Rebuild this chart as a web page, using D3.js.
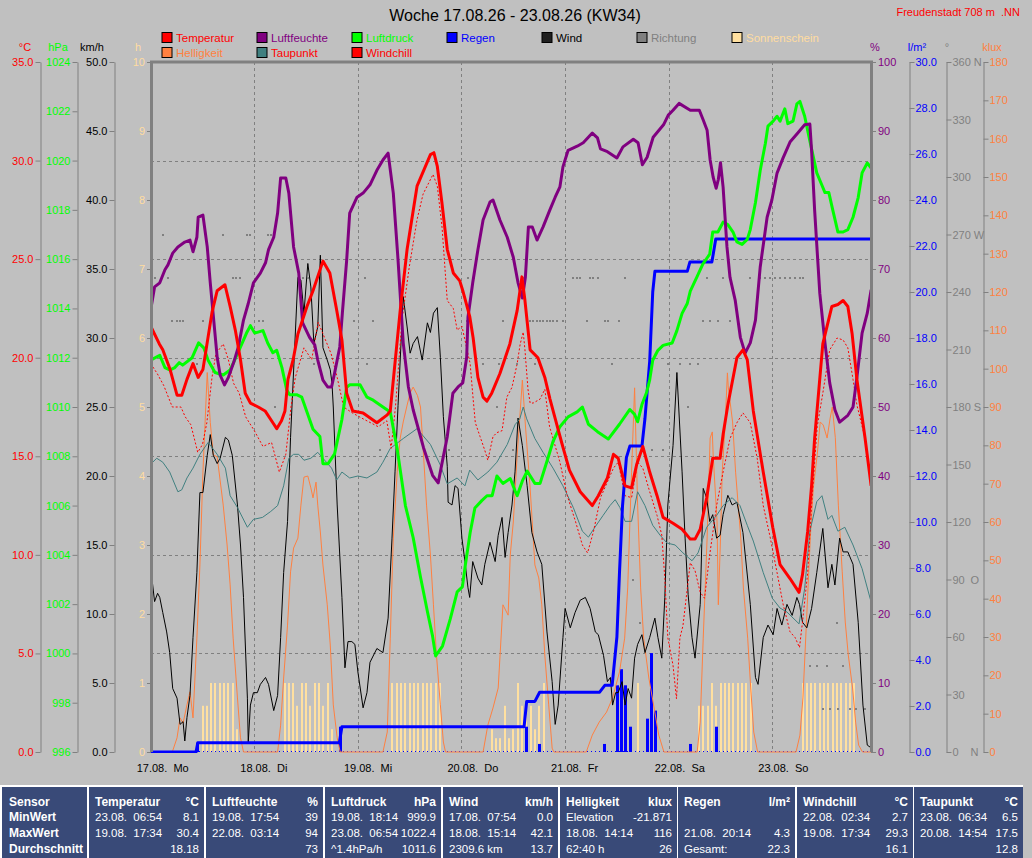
<!DOCTYPE html>
<html>
<head>
<meta charset="utf-8">
<script src="https://cdn.jsdelivr.net/npm/d3@7"></script>
<style>
body{margin:0;background:#c0c0c0;}
svg text{font-family:"Liberation Sans",Arial,sans-serif;white-space:pre;}
</style>
</head>
<body>
<div id="chart"></div>
<script>
// Werte: [Stunde seit 17.08. 00:00, Wert]
var temperatur = [[0,21.6],[2,20.7],[2.8,20.4],[4.5,19.4],[6.1,18.1],[7.2,18.1],[8.4,18.9],[9.8,19.7],[11,19.0],[12.1,19.4],[14.2,22.3],[15.4,23.4],[17.2,23.7],[18.4,22.6],[19.6,21.4],[20.8,19.9],[21.9,18.2],[23.1,17.7],[24.9,17.5],[26.5,17.3],[28.3,16.7],[29.2,16.4],[30.3,16.8],[31.1,17.3],[31.8,18.9],[33,19.9],[34.1,21.2],[36.2,22.6],[37.6,23.4],[39.9,24.9],[41.5,24.3],[43.1,22.4],[44.3,20.9],[45.4,18.2],[46.8,17.3],[49.2,17.2],[52.4,16.7],[54.8,17.1],[55.5,17.3],[57.8,22.4],[59.4,25.5],[61.7,28.7],[64.8,30.3],[65.6,30.4],[66.4,29.7],[67.5,27.8],[68.7,25.5],[70.1,24.3],[71.6,23.9],[72.3,23.4],[73.9,22.1],[74.7,21],[75.8,19],[77,18],[77.9,17.8],[79,18.2],[80.9,19.2],[83.2,20.7],[84.9,22.4],[86,24.1],[86.7,22.9],[87.9,20.4],[89.7,20],[91.3,19],[92.5,17.9],[93.6,17],[95.2,15.7],[97,14.3],[99.5,13.2],[102.3,12.5],[103.7,13.0],[105.8,13.9],[107.2,15.1],[108.3,14.9],[109.9,13.5],[111.4,13.4],[112.6,14.6],[114,15.5],[115.6,14.2],[117.3,13.0],[118.7,11.9],[121,11.6],[123.1,11.3],[125,10.8],[126.1,10.8],[127.3,11.3],[128.8,12.9],[130.2,14.9],[131.9,14.9],[132.6,16.1],[133.7,17.6],[135.8,20.0],[137.2,20.4],[138.2,19.9],[139.6,17.3],[141.9,14.2],[144.1,11.4],[145.8,9.5],[148.1,8.8],[150.2,8.1],[151,9.0],[152.2,11.2],[153.1,13.5],[153.8,15.9],[155.7,20.7],[157.8,22.6],[159.2,22.7],[160.4,22.9],[161.5,22.6],[162.5,21.2],[163.6,18.9],[165.5,15.9],[166.9,13.5]];

var windchill = [[0,19.7],[1.5,19.2],[3,18.6],[5,17.5],[7,17.5],[8,17.0],[9.3,16.6],[10.9,15.2],[12,15.6],[13,16.7],[14.2,19.0],[15.1,20.2],[16.8,20.7],[18,19.9],[19.2,18.7],[20.5,18.2],[22,17.0],[24,16.3],[26,15.5],[28,15.7],[29.8,14.2],[31.3,15.1],[32.5,17.5],[33.5,19.0],[35.5,20.5],[37.3,19.9],[38.8,21.8],[40.3,21.0],[41.8,20.2],[43.2,19.0],[44.7,17.5],[46.7,17.2],[49.2,16.9],[52.7,16.5],[54.7,16.8],[55.7,15.4],[56.7,17.5],[58.2,21.9],[59.9,24.6],[61.7,27.0],[63.1,28.3],[65.4,29.3],[66.4,28.7],[67.5,26.6],[68.7,22.9],[70.1,22.5],[71,21.4],[72.1,21.6],[74,19.7],[74.7,17.9],[75.2,16.7],[76.3,16],[77.4,15.3],[78.1,14.8],[79.3,16],[80.2,16.2],[81.4,16.3],[82.5,18],[83.7,18.5],[84.9,19.7],[85.6,20.7],[86.3,21.3],[86.7,20.4],[87.4,18.4],[87.9,17.7],[88.6,17.7],[90.2,17.9],[91.3,18.4],[92.4,16.5],[94.8,14.7],[96.5,13.0],[98.4,11.7],[100,10.5],[101.2,10.1],[102.6,11.2],[104.2,12.9],[105.8,13.7],[107.2,14.4],[108.3,14.7],[109.9,13.0],[111.4,12.9],[112.8,14.7],[114,14.4],[115.6,13.2],[117.3,12.0],[118.4,11.0],[119.1,8.8],[119.8,5.8],[121,4.4],[121.8,2.7],[122.6,5.8],[123.3,6.4],[125,9.6],[126.1,9.2],[127.3,8.1],[128.3,7.8],[129.5,10.0],[131.1,12.5],[132.6,14.2],[134.2,15.9],[135.8,16.7],[137.2,17.2],[138.9,16.7],[140.5,14.9],[141.9,12.5],[143.5,10.9],[145.1,9.1],[146.5,7.5],[148.1,6.1],[149.3,5.8],[150.3,5.3],[151,6.6],[152.2,9.1],[153.1,12.5],[154.4,16.5],[155.7,18.2],[157.3,20.4],[159,21.0],[160.4,20.9],[161.5,20.5],[162.7,18.9],[163.6,17.6],[165.5,15.9],[166.9,13.5]];

var taupunkt = [[0,14.6],[1.4,14.9],[2.8,14.7],[4.4,14.2],[6.3,13.2],[7.2,13.3],[8.4,13.9],[9.8,14.4],[11.4,15.1],[13.3,15.7],[15.4,15.1],[17.3,14.4],[18.4,13.0],[20.1,12.4],[22.4,11.4],[23.8,11.8],[25.9,11.9],[27.8,12.2],[29.4,12.5],[30.8,13.5],[32,14.9],[33.1,15.1],[34.3,15.1],[35.5,14.8],[37.1,14.9],[38.7,15.2],[39.9,14.9],[41.9,14.4],[43.1,13.8],[44.3,14.2],[46.1,13.9],[48,14.0],[50.1,13.9],[52.4,14.2],[53.8,14.7],[55.5,15.4],[58.5,15.9],[61.7,16.4],[64.8,15.6],[67,14.6],[68.7,13.6],[71,13.9],[72.8,13.5],[73.9,14.3],[75.8,13.8],[78.1,14.2],[80.2,14.7],[82.6,15.6],[84.4,16.6],[85.5,16.9],[86.3,17.5],[87.1,16.9],[89,15.9],[90.9,15.2],[93.2,14.4],[95.5,13.5],[97.9,12.4],[100,11.2],[101.4,10.9],[102.9,11.4],[104.8,12.0],[106.4,12.5],[107.6,12.8],[108.7,12.4],[109.9,11.7],[111.4,11.7],[112.8,13.2],[114.5,12.5],[116.3,11.5],[118,11.0],[119.6,10.6],[121.5,10.5],[123.3,10.1],[125.4,9.7],[126.8,10.1],[128.8,11.4],[131.1,12.0],[132.6,12.5],[134.7,12.9],[136.5,12.5],[138.2,11.5],[139.6,10.7],[141.9,9.1],[144,7.8],[145.8,7.3],[147.4,7.1],[148.8,6.8],[150.2,6.5],[151.5,8.3],[152.7,11.2],[154.3,12.7],[155.5,13.0],[156.9,11.8],[157.8,12.0],[159.2,11.2],[160.8,11.4],[162.7,10.5],[164.8,9.3],[166.9,7.6]];

var luftfeuchte = [[0,64.1],[0.9,67.4],[2.1,68],[3.3,69.9],[4,70.6],[5.1,72.3],[6.3,73.2],[7.9,73.9],[9.1,74.2],[9.8,72.5],[10.7,74.6],[11,77.5],[12.1,77.8],[13.1,73.2],[13.8,68],[14.6,62.6],[15.4,57.2],[16.1,54.6],[17.1,53.2],[18,54.3],[19.2,56.4],[20.3,58.7],[21.5,62.6],[22.6,65],[23.8,68],[25.4,69.4],[26.6,70.9],[27.3,72.8],[28.5,74.6],[29.4,78.1],[30.1,83.2],[31.3,83.2],[32,81],[33.1,73.2],[34.3,69.4],[35.2,62.2],[36.8,60.1],[38,59],[38.7,56.8],[39.9,53.9],[41,52.9],[41.9,52.9],[42.6,54.9],[43.8,58.7],[44.4,63.6],[45.4,71.3],[46.1,78.1],[47.8,80.4],[49.2,81],[50.8,82.2],[52.4,84.3],[53.8,85.8],[55,86.8],[56.2,81],[57.3,71.3],[58.5,59.3],[59.7,52.9],[60.8,49.6],[63.2,44.1],[65.3,40.1],[66.6,39],[67.5,41.9],[68.7,45.7],[70,52],[71.2,52.9],[72.3,53.5],[73.2,57.2],[73.5,63],[74.6,68],[75.8,72.8],[77,77.1],[78.6,79.7],[79.3,80],[80.9,77.1],[82.6,74.6],[84,71.7],[85.1,68],[86.1,65.8],[86.8,68.8],[87.5,76.1],[88.4,76.1],[89.5,74.2],[90.9,76.1],[92.5,78.6],[93.7,80.4],[94.8,81.9],[95.5,84.8],[96.7,87.2],[98.8,87.8],[100.2,88.3],[102.3,89.7],[103.5,89],[104.2,87.4],[105.8,87],[108,86.1],[109.4,87.7],[111.8,88.8],[112.9,88.3],[113.9,85.1],[115,86.2],[116.4,89.1],[118.8,90.9],[119.9,92.3],[121,93],[122.4,94],[125,93],[127.1,93],[128,91.6],[128.9,90.1],[129.6,85.8],[130.3,83.3],[131,81.7],[131.5,83],[132,85.4],[132.6,81.9],[133.5,73.2],[134.2,68.8],[135.4,65.5],[136.6,60.1],[137.7,57.8],[138.9,59.3],[140.1,62.6],[141.2,70.3],[142.8,77.5],[143.9,80],[145.1,83.9],[146.5,86.1],[148.1,88.4],[149.9,89.7],[151.5,90.9],[152.7,91],[153.1,87.2],[153.8,78.6],[155,66.5],[156.2,59.3],[157.3,53.5],[158.5,49.6],[159.6,47.8],[161.5,48.8],[162.7,50],[163.6,54.3],[164.8,60.7],[166,63.6],[166.9,67]];

var luftdruck = [[0,1011.9],[2.1,1012.1],[3.3,1011.6],[4.4,1011.5],[5.6,1011.6],[6.6,1011.8],[7.4,1011.7],[9.6,1012],[11.1,1012.6],[12.3,1012.4],[13.3,1011.9],[14.9,1011.4],[16.8,1011.3],[18.4,1011.5],[20.2,1012.2],[22.2,1013],[23.1,1013.3],[24.1,1013],[26,1013.1],[27.1,1012.6],[28.3,1012.2],[29.2,1012.3],[30.4,1011.6],[31.5,1010.7],[32.2,1010.5],[33.8,1010.5],[35,1010.4],[36.2,1009.8],[37.6,1009.1],[39.2,1008.8],[39.9,1007.7],[41.1,1007.7],[42.6,1008.1],[44.3,1009.5],[45.4,1010.8],[46.1,1010.9],[48.5,1010.9],[50.1,1010.4],[51.3,1010.3],[53.8,1010],[55.5,1009.8],[57.1,1008.3],[59,1006],[60.8,1004.7],[62.5,1003.1],[64.1,1001.7],[65.3,1000.7],[66,999.9],[67.6,1000.3],[69.4,1001.4],[71,1002.5],[72.2,1002.7],[72.9,1003.6],[74,1004.9],[75.1,1005.9],[76.7,1006.2],[77.9,1006.4],[79.1,1006.4],[80.2,1007.2],[81.6,1006.9],[83.3,1007.1],[84.4,1006.6],[84.9,1006.4],[86.1,1007],[87.2,1007.4],[89,1006.9],[90.2,1006.9],[91.8,1007.8],[93.2,1008.6],[94.8,1009.2],[96.7,1009.6],[98.8,1009.8],[100,1010],[101.4,1009.3],[103.5,1009],[106,1008.7],[108.6,1009.3],[111,1009.9],[112.1,1009.7],[112.8,1009.4],[113.8,1010.1],[114.9,1010.6],[115.6,1011.1],[116.3,1011.9],[117.5,1012.3],[118.7,1012.5],[120.8,1012.6],[121.9,1013.1],[123.1,1013.8],[124.3,1014.2],[125,1014.7],[126.6,1015.3],[127.9,1015.8],[129.5,1016.2],[130.2,1017.1],[131.4,1017.1],[132.6,1017.5],[133.7,1017.4],[134.9,1017.1],[135.8,1016.7],[137,1016.6],[138.2,1016.8],[138.9,1017.2],[140.1,1018.3],[141.2,1019.6],[142.4,1020.7],[143,1021.4],[144.2,1021.6],[145.1,1021.8],[145.8,1021.6],[146.9,1022.1],[147.6,1021.5],[148.8,1021.6],[149.7,1022.3],[150.4,1022.4],[151.5,1021.8],[152.7,1020.8],[154.3,1019.5],[155.5,1019],[156.2,1018.7],[157.1,1018.7],[158,1018],[159.2,1017.1],[160.4,1017.1],[161.5,1017.2],[162.7,1017.7],[163.9,1018.5],[164.8,1019.5],[166,1019.9],[166.9,1019.7]];

var wind = [[0.2,12.8],[0.9,10.9],[1.6,11.5],[2.1,11.2],[2.8,10.1],[3.7,8.7],[4.4,7.2],[5.1,4.6],[6.1,3.9],[6.8,2.0],[7.5,2.2],[7.9,0.8],[8.4,2.5],[9.1,4.1],[9.8,8.3],[10.7,13],[11.4,18.8],[12.1,18.8],[13.1,21.5],[13.8,23],[14.5,21.5],[15.4,20.9],[16.1,21.3],[17.3,22.8],[18,22.6],[18.9,21.5],[20.1,17.9],[20.8,15],[21.5,11.2],[22.4,3.9],[22.6,0.7],[23.1,3.4],[23.8,4.3],[24.7,4.3],[25.4,4.9],[26.6,5.4],[27.3,4.9],[28.5,3.0],[29.4,4.1],[30.1,8.3],[30.8,13],[31.7,16.7],[32.4,22.8],[34.1,34.4],[34.8,34.2],[35.5,31.8],[36.4,35.4],[37.1,33.7],[37.8,29.6],[38.7,30.8],[39.3,36],[39.9,29.3],[40.9,28.4],[41.6,27.7],[42,26.7],[42.3,25],[43.2,17.9],[44.3,11.2],[45,6.1],[45.7,8],[46.6,8],[47.3,7.8],[48,5.8],[49.2,3.2],[50.1,4.3],[50.8,6.5],[52.4,7.5],[53.8,7.2],[55,9.7],[55.9,15.5],[56.6,20.3],[57.3,25.1],[58.5,33],[59.4,30.8],[60.1,28.9],[60.8,29.6],[61.8,30.1],[62.9,28.4],[64.1,31.1],[64.8,30.4],[65.5,31.8],[66.4,32.2],[67.1,28.6],[67.8,24.3],[68.7,20.7],[68.9,18.1],[69.8,17.9],[70.5,19.3],[71.2,19.1],[72.1,15.5],[72.8,13.8],[73.5,11.9],[73.9,11.2],[74.6,13.8],[75.8,12.6],[76.7,12.1],[77.4,13.6],[78.6,15.2],[79.8,13.8],[80.5,15.7],[81.4,17],[82.1,14.1],[82.8,15.9],[83.7,17.9],[84.4,20.3],[85.1,24.2],[86.1,22.2],[87.2,19.3],[88.3,15.9],[89.5,14.5],[90.6,13.6],[91.8,8.7],[93,5.1],[93.7,2.0],[94.4,3.4],[95.5,8.3],[96,10.4],[97.2,9.0],[98.3,10.1],[99.5,11],[100.7,11.2],[101.8,10.4],[103,8.7],[103.7,8.5],[104.9,7],[105.8,5.1],[106.5,5.4],[107,3.4],[107.7,4.3],[108.3,4.3],[109.2,5.1],[109.9,3.4],[110.6,4.6],[111.4,3.9],[112.1,6.8],[112.8,7.8],[113.8,8.5],[114.5,7.2],[115.6,8.3],[116.8,9.7],[117.5,8.3],[118.4,6.8],[119.1,11.2],[119.8,17.9],[121,22.2],[121.9,27.5],[123.1,20.3],[123.8,15.5],[124.5,11.4],[125.4,8.3],[126.1,6.8],[127.3,10.7],[128,19.1],[128.8,18.4],[129.5,16.7],[130.2,17.2],[131.1,15.5],[131.9,15.7],[132.6,17.2],[133.7,18.6],[134.7,17.9],[135.8,18.1],[137.2,15.9],[138.9,10.7],[140.1,5.4],[140.7,4.9],[141.9,8.3],[143,9.2],[144.2,8.5],[145.1,10.4],[146.2,9.2],[147.4,10.7],[148.6,9.9],[149.7,11.2],[150.3,10.7],[151,9.4],[152,9],[153.1,10.4],[154.3,13],[155.7,16.2],[156.9,11.9],[157.8,13.6],[158.5,12.1],[159.6,15.5],[160.4,14.5],[161.5,14.5],[162.7,13.6],[163.9,9.4],[165,3.4],[166,0.5],[166.9,0.3]];

var helligkeit = [[0,0],[5,0],[6.1,3.7],[6.8,8.9],[7.5,7.5],[8.4,12.3],[9.1,15.7],[9.8,8.9],[10.7,29.7],[11.4,48.8],[12.1,73],[13.1,99],[13.8,86],[14.5,77.5],[15.4,77],[16.8,64.4],[17.7,54],[18.4,43.6],[19.1,29.7],[20.1,14.1],[20.8,3.7],[21.5,0],[29.4,0],[30.1,7],[30.8,19.3],[31.7,33.1],[32.4,47],[33.1,53.2],[34.1,55.8],[34.8,64.4],[35.5,71.7],[36.4,72],[37.1,68.9],[37.6,66.3],[38.3,70.4],[38.7,64.4],[39.3,57.4],[39.9,48.8],[40.9,38.4],[41.6,27.9],[42.3,12.3],[43.2,3.7],[43.9,0],[53.8,0],[54.8,5.2],[55.5,29.7],[56.2,55.8],[57.1,73],[57.8,81.9],[58.5,86.1],[59.4,90.5],[60.1,93.7],[60.8,95.2],[61.8,93],[62.5,90],[63.2,77.5],[63.9,64.4],[64.8,51.4],[65.5,38.4],[66.2,25.3],[67.1,12.3],[67.8,2.6],[68.3,0],[77,0],[78.1,7],[79.3,11.5],[80.5,16.7],[81.6,38.4],[82.8,35.7],[83.3,51.4],[84,60],[84.9,77.5],[86.1,97],[86.8,85.3],[87.9,68.9],[89,48.8],[89.9,45.4],[90.6,38.4],[91.3,25.3],[92.2,12.3],[93,1],[93.4,0],[100.9,0],[102.3,4.4],[103.9,7.8],[105.6,10.4],[107,14.1],[108.6,20.9],[109.8,29.7],[110.5,42.8],[111.4,73],[112.1,95],[112.8,64.4],[113.5,42.8],[114.2,29.7],[115.4,19.3],[116.5,12.3],[117.7,4.4],[118.9,0],[126.6,0],[127.3,7.8],[128,29.7],[128.9,55.8],[129.6,81.9],[130.1,83.5],[130.3,77.5],[131.2,60],[131.5,38.4],[132,55.8],[132.4,73],[133.1,86.1],[133.6,98.9],[133.8,95.2],[134.8,86.1],[135.5,73],[136.7,55.8],[137.3,42.8],[138.3,29.7],[139,16.7],[139.7,5.2],[140.6,0],[149.5,0],[150.4,4.4],[151.1,14.1],[152.1,38.4],[152.8,55.8],[153.5,68.9],[154.4,77.5],[155.1,86.1],[155.8,85.3],[156.7,81.9],[157.4,87.1],[157.9,90],[158.6,82],[159.3,64.4],[160.2,47],[160.9,33.9],[161.6,25.3],[162.6,16.7],[163.3,7.8],[164,1.8],[164.9,0],[166.9,0]];

var regenSumme = [[0,0],[10.5,0],[10.9,0.4],[43.7,0.4],[44.3,1.1],[86.5,1.1],[87.1,2.2],[89,2.2],[90.1,2.6],[104,2.6],[105.2,2.9],[106.9,2.9],[108,5.0],[108.6,7.8],[109.3,10.7],[110.2,12.8],[111,13.3],[113.8,13.3],[114.5,14.5],[115.6,17],[116.3,20],[116.8,20.9],[124.3,20.9],[124.9,21.3],[130,21.3],[130.9,22.3],[166.9,22.3]];

var regenStunde = [[10.7,0.4],[43.9,1.1],[86.9,1.1],[89.9,0.35],[105,0.35],[108,2.9],[108.9,3.6],[109.8,2.9],[111,1.1],[114.9,1.45],[115.9,4.3],[116.8,1.8],[124.9,0.35],[130.9,1.1]];

var sonnenschein = [[12,0.67],[13,0.67],[14,1],[15,1],[16,1],[17,1],[18,1],[19,1],[20,0.33],
  [31,1],[32,1],[33,1],[34,0.67],[35,1],[36,1],[37,0.67],[38,1],[39,1],[40,0.67],[41,1],[42,0.33],
  [56,1],[57,1],[58,1],[59,1],[60,1],[61,1],[62,1],[63,1],[64,1],[65,1],[66,1],[67,1],
  [79,0.33],[80,0.2],[81,0.2],[82,0.67],[83,0.2],[84,0.33],[85,1],[86,0.67],[87,0.67],[88,0.67],[89,0.33],[90,0.67],[91,1],
  [113,1],
  [127,0.67],[128,0.67],[129,0.67],[130,1],[131,0.67],[132,1],[133,1],[134,1],[135,1],[136,1],[137,1],[138,1],[139,1],
  [151,1],[152,1],[153,1],[154,1],[155,1],[156,1],[157,1],[158,1],[159,1],[160,1],[161,1],[162,1],[163,1]];

var richtung = [[0.9,247.5],[2.8,270],[4.0,247.5],[5.0,225],[6.0,225],[6.8,225],[7.5,225],[10.7,202.5],[12.1,225],[16.8,270],[19.0,247.5],[19.7,247.5],[20.8,247.5],[22.2,270],[23.0,270],[25,225],[26.1,225],[27.1,270],[27.9,270],[28.9,180],[35.2,247.5],[36.4,247.5],[37.8,202.5],[47,225],[49.7,247.5],[50.2,202.5],[51.6,225],[53.2,157.5],[69,157.5],[73.3,225],[73.6,247.5],[74.8,247.5],[77,202.5],[80.2,180],[80.7,202.5],[81.6,225],[84,157.5],[84.9,202.5],[86.2,247.5],[87.8,225],[88.5,225],[89,202.5],[89.5,225],[90.2,225],[90.9,225],[91.8,225],[92.5,225],[93.2,225],[94.1,225],[95.5,225],[97.8,247.5],[98.7,247.5],[99.4,247.5],[101,225],[101.7,247.5],[102.4,247.5],[103.6,247.5],[105.2,225],[105.9,225],[106.8,202.5],[108.6,225],[109.8,247.5],[111.7,90],[113.3,67.5],[116.1,157.5],[118.7,157.5],[119.8,202.5],[122.6,202.5],[124.5,180],[125,202.5],[126.8,202.5],[127.9,225],[128.8,247.5],[129.5,225],[131.4,225],[132.6,247.5],[134.2,225],[138.9,247.5],[141.2,247.5],[142.4,247.5],[143.5,247.5],[144.7,247.5],[145.8,247.5],[146.9,247.5],[148.1,247.5],[149.3,247.5],[150.4,247.5],[151,247.5],[152.7,45],[154.3,45],[155.7,22.5],[156.6,45],[157.3,22.5],[159,67.5],[159.2,22.5],[160.4,45],[161.9,22.5],[163.4,22.5],[165.5,22.5]];

var tage = ["17.08.  Mo","18.08.  Di","19.08.  Mi","20.08.  Do","21.08.  Fr","22.08.  Sa","23.08.  So"];

var legende = [["Temperatur","#ff0000","#ff0000"],["Luftfeuchte","#800080","#800080"],["Luftdruck","#00ff00","#00ff00"],["Regen","#0000ff","#0000ff"],["Wind","#202020","#000000"],["Richtung","#808080","#808080"],["Sonnenschein","#ffe0a0","#ffdca0"],
  ["Helligkeit","#ff8040","#ff8040"],["Taupunkt","#408080","#ff0000"],["Windchill","#ff0000","#ff0000"]];

var zeilen = ["Sensor","MinWert","MaxWert","Durchschnitt"];
var sensoren = ["Temperatur","Luftfeuchte","Luftdruck","Wind","Helligkeit","Regen","Windchill","Taupunkt"];
var einheiten = ["°C","%","hPa","km/h","klux","l/m²","°C","°C"];
var minText = ["23.08.  06:54","19.08.  17:54","19.08.  18:14","17.08.  07:54","Elevation","","22.08.  02:34","23.08.  06:34"];
var minWert = ["8.1","39","999.9","0.0","-21.871","","2.7","6.5"];
var maxText = ["19.08.  17:34","22.08.  03:14","23.08.  06:54","18.08.  15:14","18.08.  14:14","21.08.  20:14","19.08.  17:34","20.08.  14:54"];
var maxWert = ["30.4","94","1022.4","42.1","116","4.3","29.3","17.5"];
var avgText = ["","","^1.4hPa/h","2309.6 km","62:40 h","Gesamt:","",""];
var avgWert = ["18.18","73","1011.6","13.7","26","22.3","16.1","12.8"];

var svg = d3.select("#chart")
    .append("svg")
    .attr("width", 1032)
    .attr("height", 858);

svg.append("rect").attr("width",1032).attr("height",858).attr("fill","#c0c0c0");

var oben = 62, unten = 752, links = 151, rechts = 871;

var x = d3.scaleLinear().domain([0,168]).range([150.7,875.9]);
var yT = d3.scaleLinear().domain([0,35]).range([unten,oben]);
var yP = d3.scaleLinear().domain([996,1024]).range([unten,oben]);
var yW = d3.scaleLinear().domain([0,50]).range([unten,oben]);
var yS = d3.scaleLinear().domain([0,10]).range([unten,oben]);
var yH = d3.scaleLinear().domain([0,100]).range([unten,oben]);
var yR = d3.scaleLinear().domain([0,30]).range([unten,oben]);
var yD = d3.scaleLinear().domain([0,360]).range([unten,oben]);
var yL = d3.scaleLinear().domain([0,180]).range([unten,oben]);

// Titel
svg.append("text").attr("x",515).attr("y",21).attr("text-anchor","middle")
  .attr("font-size",16).attr("fill","#000").text("Woche 17.08.26 - 23.08.26 (KW34)");
svg.append("text").attr("x",1020).attr("y",16).attr("text-anchor","end")
  .attr("font-size",11).attr("fill","#ff0000").text("Freudenstadt 708 m  .NN");

// Legende
legende.forEach(function(d,i){
  var row = i < 7 ? 0 : 1, col = i < 7 ? i : i-7;
  var bx = 162 + col*95, by = row==0 ? 32.5 : 47.5;
  svg.append("rect").attr("x",bx).attr("y",by).attr("width",10).attr("height",10)
    .attr("fill",d[1]).attr("stroke","#000").attr("stroke-width",1);
  svg.append("text").attr("x",bx+14).attr("y",by+9.5).attr("font-size",11.5)
    .attr("fill",d[2]).text(d[0]);
});

// Achsen
function styleAxis(g, farbe, pfad){
  g.attr("font-family",null).attr("font-size",11);
  g.selectAll(".tick line").attr("stroke","#808080");
  g.selectAll(".tick text").attr("fill",farbe);
  if(pfad) g.select(".domain").attr("stroke","#808080");
  else g.select(".domain").remove();
}

var gT = svg.append("g").attr("transform","translate(40.5,0)")
  .call(d3.axisLeft(yT).tickValues(d3.range(0,36,5)).tickFormat(d3.format(".1f")).tickSize(5).tickSizeOuter(0).tickPadding(2));
styleAxis(gT,"#ff0000",true);
var gP = svg.append("g").attr("transform","translate(77.5,0)")
  .call(d3.axisLeft(yP).tickValues(d3.range(996,1025,2)).tickFormat(d3.format("d")).tickSize(5).tickSizeOuter(0).tickPadding(2));
styleAxis(gP,"#00ff00",true);
var gW = svg.append("g").attr("transform","translate(114.5,0)")
  .call(d3.axisLeft(yW).tickValues(d3.range(0,51,5)).tickFormat(d3.format(".1f")).tickSize(5).tickSizeOuter(0).tickPadding(2));
styleAxis(gW,"#000000",true);
var gS = svg.append("g").attr("transform","translate(151,0)")
  .call(d3.axisLeft(yS).tickValues(d3.range(0,11,1)).tickFormat(d3.format("d")).tickSize(4).tickSizeOuter(0).tickPadding(2));
styleAxis(gS,"#ffdca0",false);
var gH = svg.append("g").attr("transform","translate(871,0)")
  .call(d3.axisRight(yH).tickValues(d3.range(0,101,10)).tickFormat(d3.format("d")).tickSize(5).tickSizeOuter(0).tickPadding(2));
styleAxis(gH,"#800080",false);
var gR = svg.append("g").attr("transform","translate(909.5,0)")
  .call(d3.axisRight(yR).tickValues(d3.range(0,31,2)).tickFormat(d3.format(".1f")).tickSize(5).tickSizeOuter(0).tickPadding(1));
styleAxis(gR,"#0000ff",true);
var himmel = {0:"N",90:"O",180:"S",270:"W",360:"N"};
var gD = svg.append("g").attr("transform","translate(946.5,0)")
  .call(d3.axisRight(yD).tickValues(d3.range(0,361,30)).tickFormat(d3.format("d")).tickSize(5).tickSizeOuter(0).tickPadding(1));
styleAxis(gD,"#808080",true);
gD.selectAll(".tick text").filter(function(d){ return himmel[d]; })
  .append("tspan").attr("x", function(d){ return d < 100 ? 24 : null; })
  .attr("dx", function(d){ return d < 100 ? null : 3; })
  .text(function(d){ return himmel[d]; });
var gL = svg.append("g").attr("transform","translate(983.5,0)")
  .call(d3.axisRight(yL).tickValues(d3.range(0,181,10)).tickFormat(d3.format("d")).tickSize(5).tickSizeOuter(0).tickPadding(1));
styleAxis(gL,"#ff8040",true);

// Einheiten
var einh = [["°C",25,"#ff0000"],["hPa",58,"#00ff00"],["km/h",92,"#000000"],["h",138,"#ffdca0"],
            ["%",875,"#800080"],["l/m²",917,"#0000ff"],["°",947,"#808080"],["klux",992,"#ff8040"]];
einh.forEach(function(d){
  svg.append("text").attr("x",d[1]).attr("y",51).attr("text-anchor","middle")
    .attr("font-size",11).attr("fill",d[2]).text(d[0]);
});

// Raster
svg.append("g").selectAll("line").data(d3.range(5,35,5)).enter().append("line")
  .attr("x1",links).attr("x2",rechts).attr("y1",function(d){return Math.round(yT(d))+0.5;})
  .attr("y2",function(d){return Math.round(yT(d))+0.5;})
  .attr("stroke","#808080").attr("stroke-dasharray","3,3");
svg.append("g").selectAll("line").data(d3.range(24,168,24)).enter().append("line")
  .attr("y1",oben).attr("y2",unten).attr("x1",function(d){return Math.round(x(d))+0.5;})
  .attr("x2",function(d){return Math.round(x(d))+0.5;})
  .attr("stroke","#808080").attr("stroke-dasharray","3,3");

// Datumsbeschriftung
svg.append("g").selectAll("text").data(tage).enter().append("text")
  .attr("x",function(d,i){return x(i*24)-14;}).attr("y",772)
  .attr("font-size",11).attr("fill","#000").text(function(d){return d;});

// Zeichenbereich
svg.append("clipPath").attr("id","clip").append("rect")
  .attr("x",links).attr("y",oben).attr("width",rechts-links).attr("height",unten-oben+1);
var plot = svg.append("g").attr("clip-path","url(#clip)");

// Sonnenschein
plot.selectAll(".sonne").data(sonnenschein).enter().append("rect")
  .attr("x",function(d){return Math.round(x(d[0]))-1;}).attr("width",2)
  .attr("y",function(d){return yS(d[1]);}).attr("height",function(d){return unten-yS(d[1]);})
  .attr("fill","#ffe0a0");

// Regen je Stunde
plot.selectAll(".regen").data(regenStunde).enter().append("rect")
  .attr("x",function(d){return Math.round(x(d[0]))-1;}).attr("width",3)
  .attr("y",function(d){return yR(d[1]);}).attr("height",function(d){return unten-yR(d[1]);})
  .attr("fill","#0000ff");
plot.append("line").attr("x1",links).attr("x2",rechts).attr("y1",unten-0.5).attr("y2",unten-0.5)
  .attr("stroke","#0000ff").attr("stroke-dasharray","1,3");

function linie(daten, skala, farbe, breite, dash){
  var l = d3.line().x(function(d){return x(d[0]);}).y(function(d){return skala(d[1]);});
  var p = plot.append("path").datum(daten).attr("d",l).attr("fill","none")
    .attr("stroke",farbe).attr("stroke-width",breite).attr("stroke-linejoin","round");
  if(dash) p.attr("stroke-dasharray",dash);
}

linie(helligkeit, yL, "#ff8040", 1);
linie(wind, yW, "#000000", 1);
linie(taupunkt, yT, "#408080", 1);
linie(windchill, yT, "#ff0000", 1, "2,2");

// Richtung
plot.selectAll(".richtung").data(richtung).enter().append("rect")
  .attr("x",function(d){return Math.round(x(d[0]))-1;}).attr("y",function(d){return Math.round(yD(d[1]))-1;})
  .attr("width",2).attr("height",2).attr("fill","#808080");

linie(regenSumme, yR, "#0000ff", 3);
linie(luftdruck, yP, "#00ff00", 3);
linie(luftfeuchte, yH, "#800080", 3);
linie(temperatur, yT, "#ff0000", 3);

// Rahmen
svg.append("line").attr("x1",151.5).attr("x2",151.5).attr("y1",61).attr("y2",unten).attr("stroke","#808080").attr("stroke-width",3);
svg.append("line").attr("x1",150).attr("x2",873).attr("y1",62).attr("y2",62).attr("stroke","#808080").attr("stroke-width",3);
svg.append("line").attr("x1",871.5).attr("x2",871.5).attr("y1",61).attr("y2",unten).attr("stroke","#808080").attr("stroke-width",3);

// Tabelle
var zellen = [[2,86],[89,203],[206,322],[325,440],[443,557],[560,676],[678,794],[797,912],[914,1022]];
var zy = [806,821,837,853];
svg.append("rect").attr("x",0).attr("y",785).attr("width",1023).attr("height",73).attr("fill","#ffffff");
zellen.forEach(function(c){
  svg.append("rect").attr("x",c[0]).attr("y",787).attr("width",c[1]-c[0]+1).attr("height",71).attr("fill","#394a78");
});
zeilen.forEach(function(z,i){
  svg.append("text").attr("x",9).attr("y",zy[i]).attr("font-size",12).attr("font-weight","bold")
    .attr("fill","#ffffff").text(z);
});
sensoren.forEach(function(s,i){
  var c = zellen[i+1], lx = c[0]+6, rx = c[1]-4;
  svg.append("text").attr("x",lx).attr("y",zy[0]).attr("font-size",12).attr("font-weight","bold").attr("fill","#fff").text(s);
  svg.append("text").attr("x",rx).attr("y",zy[0]).attr("text-anchor","end").attr("font-size",12).attr("font-weight","bold").attr("fill","#fff").text(einheiten[i]);
  [[minText,minWert],[maxText,maxWert],[avgText,avgWert]].forEach(function(r,j){
    svg.append("text").attr("x",lx).attr("y",zy[j+1]).attr("font-size",11.5).attr("fill","#fff").text(r[0][i]);
    svg.append("text").attr("x",rx).attr("y",zy[j+1]).attr("text-anchor","end").attr("font-size",11.5).attr("fill","#fff").text(r[1][i]);
  });
});
</script>
</body>
</html>
